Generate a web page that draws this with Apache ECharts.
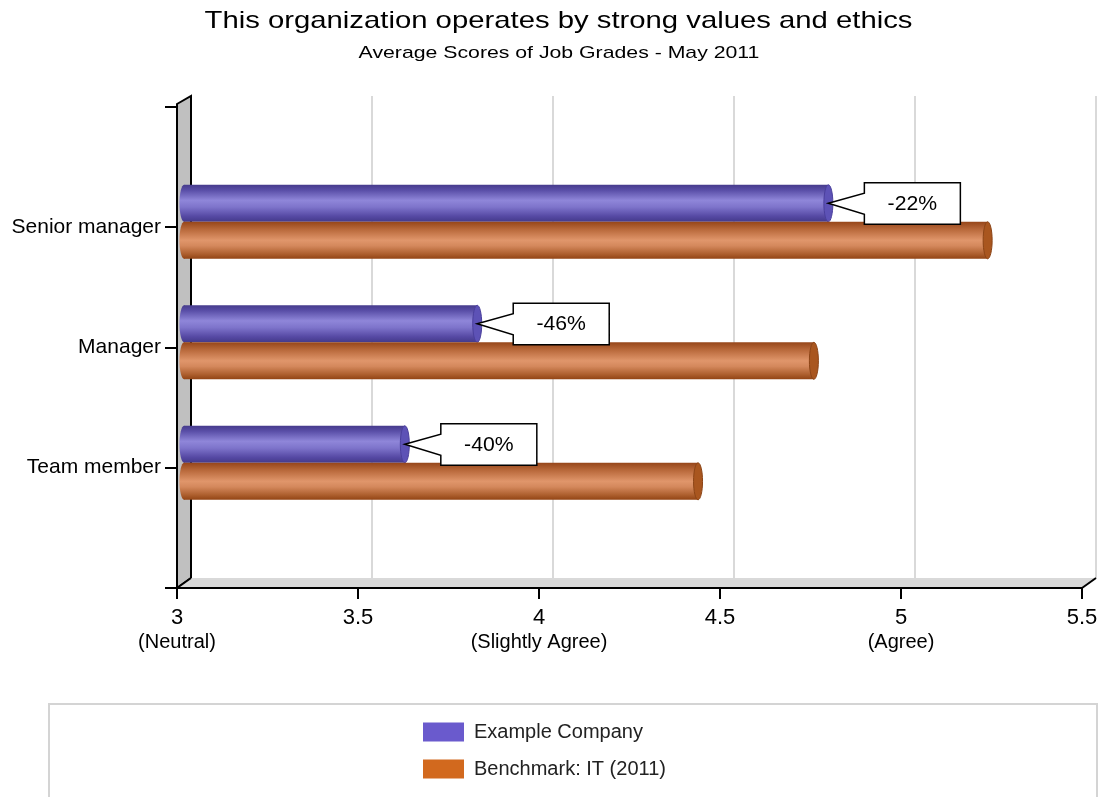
<!DOCTYPE html>
<html>
<head>
<meta charset="utf-8">
<script src="https://cdn.jsdelivr.net/npm/echarts@6/dist/echarts.min.js"></script>
<style>
  html, body { margin: 0; padding: 0; background: #fff; }
  #chart { width: 1103px; height: 797px; }
</style>
</head>
<body>
<div id="chart"></div>
<script>
// ---- data ----
const categories = ['Senior manager', 'Manager', 'Team member'];
const companyScores = [4.78, 3.81, 3.61];
const benchmarkScores = [5.22, 4.74, 4.42];
const gapLabels = ['-22%', '-46%', '-40%'];
const xTickLabels = ['3', '3.5', '4', '4.5', '5', '5.5'];
const xTickNotes = ['(Neutral)', '', '(Slightly Agree)', '', '(Agree)', ''];
const seriesNames = ['Example Company', 'Benchmark: IT (2011)'];
const titleText = 'This organization operates by strong values and ethics';
const subtitleText = 'Average Scores of Job Grades - May 2011';

// ---- layout / style ----
const FONT = '"Liberation Sans", Arial, Helvetica, sans-serif';
const X_MIN = 3, X_MAX = 5.5, X_STEP = 0.5;
const BAR_H = 37;       // thickness of each cylinder
const CAP_RX = 4.5;     // horizontal radius of the cylinder end caps
// front face, mid depth (bars) and back wall (grid lines) of the pseudo-3D plot box
const FRONT = { left: 177, top: 106.5, width: 905, height: 481.5 };
const MID = { left: 184, top: 101.3, width: 905, height: 482 };
const BACK = { left: 191, top: 96, width: 905, height: 482 };

// category axis: padded with blank slots so ticks fall between the plot edges
const yAxisData = [''].concat(categories.slice().reverse(), ['']);

const purpleBody = [
  { offset: 0, color: '#463b8c' }, { offset: 0.15, color: '#5a4fa8' },
  { offset: 0.42, color: '#8f86d9' }, { offset: 0.6, color: '#7e74cb' },
  { offset: 0.85, color: '#5649a4' }, { offset: 1, color: '#443a8a' }
];
const orangeBody = [
  { offset: 0, color: '#96461a' }, { offset: 0.2, color: '#b8683a' },
  { offset: 0.5, color: '#e0966b' }, { offset: 0.65, color: '#d4885c' },
  { offset: 0.87, color: '#ad5f2e' }, { offset: 1, color: '#924414' }
];

function cylinder(bodyStops, capFill, capStroke, above) {
  return function (params, api) {
    const idx = api.value(1);
    const start = api.coord([X_MIN, idx]);
    const end = api.coord([api.value(0), idx]);
    const y = above ? start[1] - BAR_H : start[1];
    const cy = y + BAR_H / 2;
    const grad = () => new echarts.graphic.LinearGradient(0, 0, 0, 1, bodyStops);
    return {
      type: 'group',
      children: [
        { type: 'ellipse', shape: { cx: start[0], cy: cy, rx: CAP_RX, ry: BAR_H / 2 }, style: { fill: grad() } },
        { type: 'rect', shape: { x: start[0], y: y, width: end[0] - start[0], height: BAR_H }, style: { fill: grad() } },
        { type: 'ellipse', shape: { cx: end[0], cy: cy, rx: CAP_RX, ry: BAR_H / 2 },
          style: { fill: capFill, stroke: capStroke, lineWidth: 1 } }
      ]
    };
  };
}

// white call-out box pointing at the end of the company bar
function callout(params, api) {
  const idx = api.value(1);
  const tip = api.coord([api.value(0), idx]);
  const tx = tip[0], ty = tip[1] - BAR_H / 2;
  const bl = tx + 36, bw = 96, top = ty - 20.5, bottom = ty + 21;
  return {
    type: 'group',
    children: [
      { type: 'polygon',
        shape: { points: [[tx, ty], [bl, ty - 10], [bl, top], [bl + bw, top], [bl + bw, bottom], [bl, bottom], [bl, ty + 11]] },
        style: { fill: '#fff', stroke: '#000', lineWidth: 1.5 } },
      { type: 'text', x: bl + bw / 2, y: ty + 1, scaleX: 1.06,
        style: { text: gapLabels[api.value(2)], fontSize: 20, fontFamily: FONT, fill: '#000',
                 align: 'center', verticalAlign: 'middle' } }
    ]
  };
}

const chart = echarts.init(document.getElementById('chart'), null, { renderer: 'canvas' });

const hiddenValueAxis = (grid) => ({ type: 'value', gridIndex: grid, min: X_MIN, max: X_MAX, interval: X_STEP, show: false });
const hiddenCatAxis = (grid) => ({ type: 'category', gridIndex: grid, data: yAxisData, boundaryGap: false, show: false });

chart.setOption({
  animation: false,
  backgroundColor: '#fff',
  grid: [
    Object.assign({ containLabel: false }, FRONT),
    Object.assign({ containLabel: false }, MID),
    Object.assign({ containLabel: false }, BACK)
  ],
  xAxis: [
    {
      type: 'value', gridIndex: 0, min: X_MIN, max: X_MAX, interval: X_STEP, z: 4,
      axisLine: { show: true, lineStyle: { color: '#000', width: 2 } },
      axisTick: { show: true, length: 11, lineStyle: { color: '#000', width: 2 } },
      splitLine: { show: false },
      axisLabel: {
        margin: 18, color: '#000', fontFamily: FONT,
        formatter: function (v) {
          const i = Math.round((v - X_MIN) / X_STEP);
          const note = xTickNotes[i];
          return '{n|' + xTickLabels[i] + '}' + (note ? '\n{s|' + note + '}' : '');
        },
        rich: {
          n: { fontSize: 22, lineHeight: 24, fontFamily: FONT, color: '#000' },
          s: { fontSize: 20, lineHeight: 25, fontFamily: FONT, color: '#000' }
        }
      }
    },
    hiddenValueAxis(1),
    {
      type: 'value', gridIndex: 2, min: X_MIN, max: X_MAX, interval: X_STEP, z: 0,
      axisLine: { show: false }, axisTick: { show: false }, axisLabel: { show: false },
      splitLine: { show: true, lineStyle: { color: '#d9d9d9', width: 2 } }
    }
  ],
  yAxis: [
    {
      type: 'category', gridIndex: 0, data: yAxisData, boundaryGap: false, z: 4,
      axisLine: { show: true, lineStyle: { color: '#000', width: 2 } },
      axisTick: { show: true, length: 12, interval: 0, lineStyle: { color: '#000', width: 2 } },
      axisLabel: { interval: 0, margin: 16, fontSize: 21, color: '#000', fontFamily: FONT },
      splitLine: { show: false }
    },
    hiddenCatAxis(1),
    hiddenCatAxis(2)
  ],
  legend: {
    data: seriesNames, orient: 'vertical', left: 423, top: 722, padding: 0,
    icon: 'rect', itemWidth: 41, itemHeight: 19, itemGap: 17, selectedMode: false,
    textStyle: { fontSize: 20, lineHeight: 19, color: '#222', fontFamily: FONT, padding: [0, 0, 0, 5] }
  },
  graphic: [
    { type: 'text', x: 558.5, y: 21.5, scaleX: 1.22, z: 10,
      style: { text: titleText, fontSize: 24, fontFamily: FONT, fill: '#000',
               textAlign: 'center', textVerticalAlign: 'middle', align: 'center', verticalAlign: 'middle' } },
    { type: 'text', x: 559, y: 53, scaleX: 1.25, z: 10,
      style: { text: subtitleText, fontSize: 17, fontFamily: FONT, fill: '#000',
               textAlign: 'center', textVerticalAlign: 'middle', align: 'center', verticalAlign: 'middle' } },
    // side wall
    { type: 'polygon', z: 1,
      shape: { points: [[177, 104], [191, 96], [191, 578], [177, 588]] },
      style: { fill: '#c0c0c0', stroke: '#000', lineWidth: 2 } },
    // floor
    { type: 'polygon', z: 1,
      shape: { points: [[177, 588], [191, 578], [1096, 578], [1082, 588]] },
      style: { fill: '#d9d9d9' } },
    { type: 'polyline', z: 1,
      shape: { points: [[177, 588], [191, 578]] }, style: { stroke: '#000', lineWidth: 2 } },
    { type: 'polyline', z: 1,
      shape: { points: [[1082, 588], [1096, 578]] }, style: { stroke: '#000', lineWidth: 2 } },
    // legend frame
    { type: 'rect', z: 0,
      shape: { x: 49, y: 704, width: 1048, height: 130 },
      style: { fill: 'none', stroke: '#d4d4d4', lineWidth: 2 } }
  ],
  series: [
    {
      name: seriesNames[0], type: 'custom', xAxisIndex: 1, yAxisIndex: 1, z: 3,
      itemStyle: { color: '#6a5acd' },
      encode: { x: 0, y: 1 },
      data: companyScores.map((v, i) => [v, categories[i]]),
      renderItem: cylinder(purpleBody, '#5d52b6', '#4a3f9c', true)
    },
    {
      name: seriesNames[1], type: 'custom', xAxisIndex: 1, yAxisIndex: 1, z: 3,
      itemStyle: { color: '#d2691e' },
      encode: { x: 0, y: 1 },
      data: benchmarkScores.map((v, i) => [v, categories[i]]),
      renderItem: cylinder(orangeBody, '#a9561f', '#8c4416', false)
    },
    {
      name: 'Gap', type: 'custom', xAxisIndex: 1, yAxisIndex: 1, z: 6,
      encode: { x: 0, y: 1 },
      data: companyScores.map((v, i) => [v, categories[i], i]),
      renderItem: callout
    }
  ]
});
</script>
</body>
</html>
